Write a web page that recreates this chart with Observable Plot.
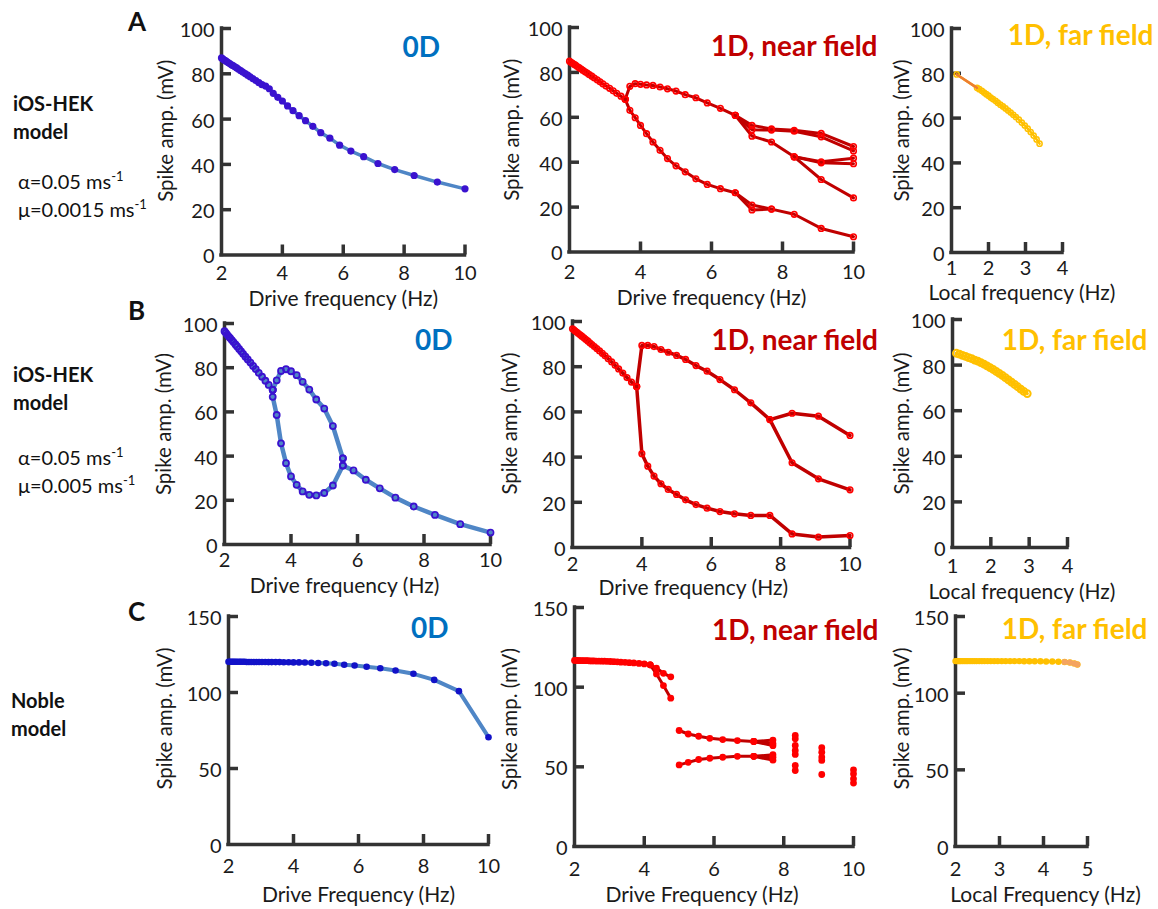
<!DOCTYPE html>
<html>
<head>
<meta charset="utf-8">
<script src="https://cdn.jsdelivr.net/npm/d3@7"></script>
<script src="https://cdn.jsdelivr.net/npm/@observablehq/plot@0.6"></script>
<style>
  body { margin: 0; background: #fff; }
  #fig { position: relative; width: 1158px; height: 909px; font-family: Lato, "Open Sans", sans-serif; color: #111; overflow: hidden; }
  .lbl { position: absolute; white-space: nowrap; transform: translateY(-50%); line-height: 1.2; }
  .letter { font-weight: bold; font-size: 26px; }
  .model { font-weight: bold; font-size: 20px; }
  .param { font-size: 20px; }
  .param sup { font-size: 13px; vertical-align: 8px; line-height: 0; }
</style>
</head>
<body>
<div id="fig">
  <div class="lbl letter" style="left:128px;top:22px">A</div>
  <div class="lbl letter" style="left:128px;top:311px">B</div>
  <div class="lbl letter" style="left:128px;top:612px">C</div>

  <div class="lbl model" style="left:13px;top:103px">iOS-HEK</div>
  <div class="lbl model" style="left:13px;top:131px">model</div>
  <div class="lbl param" style="left:18px;top:181px">α=0.05 ms<sup>-1</sup></div>
  <div class="lbl param" style="left:18px;top:209px">μ=0.0015 ms<sup>-1</sup></div>

  <div class="lbl model" style="left:13px;top:374px">iOS-HEK</div>
  <div class="lbl model" style="left:13px;top:402px">model</div>
  <div class="lbl param" style="left:18px;top:457px">α=0.05 ms<sup>-1</sup></div>
  <div class="lbl param" style="left:18px;top:485px">μ=0.005 ms<sup>-1</sup></div>

  <div class="lbl model" style="left:11px;top:700px">Noble</div>
  <div class="lbl model" style="left:11px;top:728px">model</div>
</div>
<script>
// ---------------- DATA ----------------
// Each branch is a list of [frequency (Hz), spike amplitude (mV)] pairs.

// Row A, 0D
const a1Zero = [[2.00,87.0],[2.04,86.6],[2.08,86.2],[2.13,85.8],[2.17,85.4],[2.22,85.0],[2.27,84.5],[2.33,84.0],[2.38,83.6],[2.44,83.1],[2.50,82.6],[2.56,82.0],[2.63,81.4],[2.70,80.8],[2.78,80.1],[2.86,79.4],[2.94,78.7],[3.03,77.9],[3.13,77.0],[3.23,76.1],[3.33,75.2],[3.45,74.6],[3.57,73.4],[3.70,71.4],[3.85,69.6],[4.00,68.0],[4.17,65.8],[4.35,63.7],[4.55,61.5],[4.76,59.3],[5.00,56.8],[5.26,54.0],[5.56,51.6],[5.88,48.5],[6.25,45.9],[6.67,43.4],[7.14,40.4],[7.69,37.7],[8.33,35.1],[9.09,32.2],[10.00,29.2]];

// Row A, 1D near field
const a2Main = [[2.00,85.0],[2.04,84.5],[2.08,84.1],[2.13,83.6],[2.17,83.2],[2.22,82.6],[2.27,82.1],[2.33,81.5],[2.38,80.9],[2.44,80.3],[2.50,79.7],[2.56,79.0],[2.63,78.3],[2.70,77.5],[2.78,76.7],[2.86,75.8],[2.94,74.9],[3.03,73.9],[3.13,72.9],[3.23,71.8],[3.33,70.7],[3.45,69.4],[3.57,68.0]];
const a2Upper = [[3.57,68.0],[3.70,73.8],[3.85,75.0],[4.00,74.7],[4.17,74.4],[4.35,74.2],[4.55,73.5],[4.76,72.7],[5.00,71.7],[5.26,70.1],[5.56,68.7],[5.88,66.4],[6.25,64.0],[6.67,60.9],[7.14,56.4],[7.69,54.8],[8.33,54.2],[9.09,52.8],[10.00,47.0]];
const a2Upper2 = [[6.67,60.9],[7.14,54.5],[7.69,54.3],[8.33,53.8],[9.09,51.3],[10.00,45.0]];
const a2Mid = [[6.67,60.9],[7.14,51.6],[7.69,49.0],[8.33,42.4],[9.09,39.7],[10.00,39.3]];
const a2Mid2 = [[8.33,42.4],[9.09,40.2],[10.00,41.8]];
const a2Mid3 = [[8.33,42.4],[9.09,32.3],[10.00,24.1]];
const a2Lower = [[3.57,68.0],[3.70,63.1],[3.85,59.8],[4.00,56.4],[4.17,52.7],[4.35,49.0],[4.55,45.3],[4.76,41.6],[5.00,38.4],[5.26,35.7],[5.56,32.6],[5.88,30.1],[6.25,28.2],[6.67,26.4],[7.14,20.9],[7.69,19.1],[8.33,16.8],[9.09,10.5],[10.00,6.8]];
const a2Lower2 = [[6.67,26.4],[7.14,18.7],[7.69,19.1]];

// Row A, 1D far field (local frequency)
const a3FarStart = [[1.14,79.5],[1.69,73.5]];
const a3Far = [[1.14,79.5],[1.69,73.5],[1.75,72.9],[1.82,72.2],[1.88,71.4],[1.94,70.7],[2.00,70.0],[2.06,69.2],[2.12,68.5],[2.19,67.7],[2.25,66.9],[2.32,66.0],[2.39,65.2],[2.46,64.3],[2.53,63.4],[2.60,62.5],[2.67,61.5],[2.74,60.5],[2.82,59.3],[2.90,58.0],[2.98,56.7],[3.06,55.3],[3.14,53.8],[3.22,52.2],[3.30,50.5],[3.38,48.6]];

// Row B, 0D
const b1Main = [[2.00,96.5],[2.04,95.8],[2.08,95.0],[2.13,94.1],[2.17,93.4],[2.22,92.5],[2.27,91.6],[2.33,90.5],[2.38,89.6],[2.44,88.5],[2.50,87.4],[2.56,86.3],[2.63,85.0],[2.70,83.7],[2.78,82.3],[2.86,80.8],[2.94,79.4],[3.03,77.7],[3.13,75.9],[3.23,74.1],[3.33,72.2],[3.45,70.0]];
const b1Upper = [[3.45,70.0],[3.57,74.3],[3.70,78.5],[3.85,79.3],[4.00,78.4],[4.17,76.6],[4.35,73.6],[4.55,70.1],[4.76,65.6],[5.00,61.5],[5.26,53.6],[5.56,39.0]];
const b1Lower = [[3.45,70.0],[3.45,66.8],[3.57,58.6],[3.70,45.8],[3.85,36.8],[4.00,30.8],[4.17,27.0],[4.35,24.0],[4.55,22.5],[4.76,22.2],[5.00,23.3],[5.26,26.7],[5.56,35.7]];
const b1Tail = [[5.56,39.0],[5.56,35.7],[5.88,33.5],[6.25,29.3],[6.67,25.4],[7.14,21.2],[7.69,17.2],[8.33,13.4],[9.09,9.2],[10.00,5.4]];

// Row B, 1D near field
const b2Main = [[2.00,96.8],[2.04,96.3],[2.08,95.8],[2.13,95.2],[2.17,94.7],[2.22,94.1],[2.27,93.5],[2.33,92.8],[2.38,92.1],[2.44,91.4],[2.50,90.6],[2.56,89.8],[2.63,88.9],[2.70,88.0],[2.78,87.0],[2.86,85.9],[2.94,84.8],[3.03,83.5],[3.13,82.1],[3.23,80.6],[3.33,79.0],[3.45,77.2],[3.57,75.2],[3.70,73.2],[3.85,71.2]];
const b2Upper = [[3.85,71.2],[4.00,89.4],[4.17,89.4],[4.35,88.9],[4.55,87.6],[4.76,86.4],[5.00,85.0],[5.26,83.2],[5.56,80.5],[5.88,78.0],[6.25,74.3],[6.67,69.8],[7.14,64.0],[7.69,56.6],[8.33,59.4],[9.09,58.1],[10.00,49.6]];
const b2Mid = [[7.69,56.6],[8.33,37.5],[9.09,30.4],[10.00,25.5]];
const b2Lower = [[3.85,71.2],[4.00,41.5],[4.17,36.0],[4.35,31.6],[4.55,28.2],[4.76,25.7],[5.00,23.5],[5.26,21.1],[5.56,19.0],[5.88,17.4],[6.25,15.9],[6.67,14.9],[7.14,14.2],[7.69,14.2],[8.33,6.0],[9.09,4.6],[10.00,5.3]];

// Row B, 1D far field
const b3Far = [[1.10,85.2],[1.18,84.8],[1.26,84.3],[1.34,83.8],[1.42,83.3],[1.50,82.8],[1.58,82.2],[1.66,81.7],[1.74,81.1],[1.82,80.4],[1.90,79.7],[1.98,78.9],[2.06,78.1],[2.14,77.2],[2.22,76.4],[2.30,75.5],[2.38,74.5],[2.46,73.5],[2.54,72.5],[2.62,71.5],[2.70,70.5],[2.78,69.5],[2.86,68.5],[2.95,67.5]];

// Row C, 0D
const c1Zero = [[2.00,120.2],[2.04,120.2],[2.08,120.2],[2.13,120.2],[2.17,120.2],[2.22,120.2],[2.27,120.2],[2.33,120.2],[2.38,120.2],[2.44,120.2],[2.50,120.2],[2.56,120.1],[2.63,120.1],[2.70,120.1],[2.78,120.1],[2.86,120.1],[2.94,120.1],[3.03,120.1],[3.13,120.1],[3.23,120.0],[3.33,120.0],[3.45,120.0],[3.57,120.0],[3.70,119.9],[3.85,119.9],[4.00,119.8],[4.17,119.8],[4.35,119.7],[4.55,119.6],[4.76,119.4],[5.00,119.2],[5.26,118.9],[5.56,118.3],[5.88,117.8],[6.25,116.9],[6.67,116.0],[7.14,114.5],[7.69,112.3],[8.33,108.3],[9.09,100.9],[10.00,70.6]];

// Row C, 1D near field
const c2Main = [[2.00,116.8],[2.04,116.8],[2.08,116.8],[2.13,116.7],[2.17,116.7],[2.22,116.7],[2.27,116.6],[2.33,116.6],[2.38,116.6],[2.44,116.5],[2.50,116.5],[2.56,116.5],[2.63,116.4],[2.70,116.4],[2.78,116.3],[2.86,116.3],[2.94,116.2],[3.03,116.1],[3.13,116.0],[3.23,115.9],[3.33,115.7],[3.45,115.6],[3.57,115.4],[3.70,115.2],[3.85,114.9],[4.00,114.6],[4.17,114.0]];
const c2Upper = [[4.17,114.0],[4.35,112.0],[4.55,108.7],[4.76,106.5]];
const c2Lower = [[4.17,114.0],[4.35,108.3],[4.55,101.0],[4.76,93.1]];
const c2High = [[5.00,72.8],[5.26,70.6],[5.56,69.2],[5.88,67.9],[6.25,67.1],[6.67,66.5],[7.14,65.9],[7.69,66.8]];
const c2High2 = [[7.14,65.9],[7.69,64.6]];
const c2High3 = [[7.14,65.9],[7.69,63.3]];
const c2Low = [[5.00,51.2],[5.26,52.8],[5.56,54.6],[5.88,55.4],[6.25,56.0],[6.67,56.6],[7.14,56.6],[7.69,57.6]];
const c2Low2 = [[7.14,56.6],[7.69,56.0]];
const c2Low3 = [[7.14,56.6],[7.69,54.2]];
const c2Scatter = [[8.33,69.7],[8.33,67.6],[8.33,63.4],[8.33,60.3],[8.33,57.8],[8.33,50.9],[8.33,47.7],[9.09,62.0],[9.09,59.2],[9.09,56.1],[9.09,54.0],[9.09,45.2],[10.00,48.1],[10.00,45.6],[10.00,42.5],[10.00,39.8]];

// Row C, 1D far field
const c3Far = [[2.00,120.9],[2.03,120.9],[2.06,120.9],[2.09,120.9],[2.12,120.9],[2.16,120.9],[2.20,120.9],[2.24,120.9],[2.28,120.9],[2.33,120.9],[2.38,120.9],[2.43,120.9],[2.48,120.9],[2.54,120.9],[2.60,120.9],[2.66,120.9],[2.73,120.9],[2.80,120.9],[2.88,120.9],[2.96,120.9],[3.05,120.9],[3.14,120.9],[3.24,120.9],[3.34,120.9],[3.45,120.9],[3.56,120.8],[3.68,120.8],[3.80,120.8],[3.93,120.8],[4.06,120.7],[4.20,120.7],[4.34,120.5],[4.48,120.3],[4.60,120.0],[4.70,119.4],[4.77,118.7]];
const c3FarEnd = [[4.48,120.3],[4.60,120.0],[4.70,119.4],[4.77,118.7]];

// Axis ticks and labels
const driveTicks = [2, 4, 6, 8, 10];
const localTicksAB = [1, 2, 3, 4];
const localTicksC = [2, 3, 4, 5];
const ampTicksAB = [0, 20, 40, 60, 80, 100];
const ampTicksC = [0, 50, 100, 150];
const yTitle = "Spike amp. (mV)";
const titles = {zero: "0D", near: "1D, near field", far: "1D, far field"};

// ---------------- STYLE ----------------
const FONT = 'Lato, "Open Sans", sans-serif';
const TICK_FS = 20, XTITLE_FS = 21, YTITLE_FS = 20.5, PANEL_TITLE_FS = 28;
const AXIS = "#333333";
const C0D_LINE = "#4f86c6";
const C0D_DOT = "#3a12cf";
const C0D_DOT_C = "#1212c8";
const CNEAR_LINE = "#c00000";
const CNEAR_DOT = "#ff0000";
const CFAR = "#ffc000";
const CFAR_ORANGE = "#ed7d31";
const TITLE_BLUE = "#0070c0";
const TITLE_RED = "#c00000";

const flat = (branches) => branches.flatMap((b, k) => b.map(([f, v]) => ({f, v, k})));

function linesAndDots(branches, o) {
  const data = flat(branches);
  const marks = [Plot.line(data, {x: "f", y: "v", z: "k", stroke: o.line, strokeWidth: o.lw, strokeLinejoin: "round", strokeLinecap: "round"})];
  if (o.dot) marks.push(Plot.dot(data, {x: "f", y: "v", r: o.r, fill: o.fill ?? "none", stroke: o.dotStroke ?? "none", strokeWidth: o.dsw ?? 1.5}));
  return marks;
}

const fig = document.getElementById("fig");

function panel(p) {
  const ML = 100, MR = 20, MT = 20, MB = 75;
  const iw = p.x1 - p.x0, ih = p.bottom - p.top;
  const marks = [
    Plot.ruleX([p.xDomain[0]], {stroke: AXIS, strokeWidth: 3.5, strokeLinecap: "square"}),
    Plot.ruleY([0], {stroke: AXIS, strokeWidth: 3.5, strokeLinecap: "square"}),
    Plot.ruleY(p.yTicks.filter(d => d !== 0), {stroke: AXIS, strokeWidth: 3.5, insetRight: iw - 10}),
    Plot.ruleX(p.xTicks.filter(d => d !== p.xDomain[0]), {stroke: AXIS, strokeWidth: 3.5, insetTop: ih - 10}),
    Plot.axisY({ticks: p.yTicks, tickSize: 0, tickPadding: 7, label: null, fontSize: TICK_FS, dy: 2, tickFormat: d => String(d)}),
    Plot.axisX({ticks: p.xTicks, tickSize: 0, tickPadding: p.xTickPad, label: null, fontSize: TICK_FS, tickFormat: d => String(d)}),
    Plot.text([yTitle], {text: d => d, frameAnchor: "left", textAnchor: "middle", rotate: -90, dx: p.yLabelDx, dy: p.yLabelDy, fontSize: YTITLE_FS, lineAnchor: "middle"}),
    Plot.text([p.xLabel], {text: d => d, frameAnchor: "bottom", textAnchor: "middle", dx: p.xLabelDx, dy: p.xLabelDy, fontSize: XTITLE_FS, lineAnchor: "middle"}),
    Plot.text([p.title], {text: d => d, frameAnchor: "top-right", textAnchor: "end", lineAnchor: "middle", dx: p.titleDx, dy: p.titleDy, fill: p.titleColor, fontWeight: "bold", fontSize: PANEL_TITLE_FS}),
    ...p.marks
  ];
  const svg = Plot.plot({
    width: iw + ML + MR,
    height: ih + MT + MB,
    marginLeft: ML, marginRight: MR, marginTop: MT, marginBottom: MB,
    x: {domain: p.xDomain},
    y: {domain: p.yDomain},
    style: {overflow: "visible", fontFamily: FONT, color: "#1a1a1a", background: "transparent"},
    marks
  });
  svg.style.position = "absolute";
  svg.style.left = (p.x0 - ML) + "px";
  svg.style.top = (p.top - MT) + "px";
  svg.style.maxWidth = "none";
  fig.appendChild(svg);
}

const zeroStyleA = {line: C0D_LINE, lw: 3.5, dot: true, r: 3.6, fill: C0D_DOT};
const zeroStyleB = {line: C0D_LINE, lw: 4.5, dot: true, r: 3.0, fill: "none", dotStroke: C0D_DOT, dsw: 1.8};
const zeroStyleC = {line: C0D_LINE, lw: 4, dot: true, r: 3.3, fill: C0D_DOT_C};
const nearStyle = {line: CNEAR_LINE, lw: 3, dot: true, r: 2.8, fill: "none", dotStroke: CNEAR_DOT, dsw: 1.6};
const nearStyleC = {line: CNEAR_LINE, lw: 3, dot: true, r: 3.4, fill: CNEAR_DOT};

// Row A
panel({x0: 220.5, x1: 464, top: 27.5, bottom: 254, xDomain: [2, 10], yDomain: [0, 100], xTicks: driveTicks, yTicks: ampTicksAB,
  xLabel: "Drive frequency (Hz)", xTickPad: 11, xLabelDx: 0, xLabelDy: 44, yLabelDx: -55, yLabelDy: -11,
  title: titles.zero, titleColor: TITLE_BLUE, titleDx: -25, titleDy: 19.5,
  marks: linesAndDots([a1Zero], zeroStyleA)});
panel({x0: 569, x1: 853, top: 27, bottom: 251.5, xDomain: [2, 10], yDomain: [0, 100], xTicks: driveTicks, yTicks: ampTicksAB,
  xLabel: "Drive frequency (Hz)", xTickPad: 13, xLabelDx: 0, xLabelDy: 46, yLabelDx: -57, yLabelDy: -10,
  title: titles.near, titleColor: TITLE_RED, titleDx: 24, titleDy: 20,
  marks: linesAndDots([a2Main, a2Upper, a2Upper2, a2Mid, a2Mid2, a2Mid3, a2Lower, a2Lower2], nearStyle)});
panel({x0: 951, x1: 1062, top: 28, bottom: 252, xDomain: [1, 4], yDomain: [0, 100], xTicks: localTicksAB, yTicks: ampTicksAB,
  xLabel: "Local frequency (Hz)", xTickPad: 8, xLabelDx: 15, xLabelDy: 41, yLabelDx: -49, yLabelDy: -10,
  title: titles.far, titleColor: CFAR, titleDx: 91, titleDy: 8,
  marks: [
    ...linesAndDots([a3Far], {line: CFAR, lw: 2.5, dot: true, r: 2.6, fill: "none", dotStroke: CFAR, dsw: 1.5}),
    ...linesAndDots([a3FarStart], {line: CFAR_ORANGE, lw: 2.5, dot: false})
  ]});

// Row B
panel({x0: 224, x1: 490, top: 323, bottom: 544, xDomain: [2, 10], yDomain: [0, 100], xTicks: driveTicks, yTicks: ampTicksAB,
  xLabel: "Drive frequency (Hz)", xTickPad: 8, xLabelDx: -13, xLabelDy: 42, yLabelDx: -60, yLabelDy: -10,
  title: titles.zero, titleColor: TITLE_BLUE, titleDx: -38, titleDy: 18,
  marks: linesAndDots([b1Main, b1Upper, b1Lower, b1Tail], zeroStyleB)});
panel({x0: 572, x1: 849.5, top: 321, bottom: 547, xDomain: [2, 10], yDomain: [0, 100], xTicks: driveTicks, yTicks: ampTicksAB,
  xLabel: "Drive frequency (Hz)", xTickPad: 9, xLabelDx: -18, xLabelDy: 41, yLabelDx: -62, yLabelDy: -11,
  title: titles.near, titleColor: TITLE_RED, titleDx: 28, titleDy: 20,
  marks: linesAndDots([b2Main, b2Upper, b2Mid, b2Lower], {...nearStyle, lw: 3.5})});
panel({x0: 952, x1: 1067, top: 319, bottom: 547, xDomain: [1, 4], yDomain: [0, 100], xTicks: localTicksAB, yTicks: ampTicksAB,
  xLabel: "Local frequency (Hz)", xTickPad: 11, xLabelDx: 12, xLabelDy: 45, yLabelDx: -50, yLabelDy: -10,
  title: titles.far, titleColor: CFAR, titleDx: 80, titleDy: 22,
  marks: linesAndDots([b3Far], {line: CFAR, lw: 3, dot: true, r: 3.4, fill: "none", dotStroke: CFAR, dsw: 2})});

// Row C
panel({x0: 228, x1: 488, top: 616, bottom: 844, xDomain: [2, 10], yDomain: [0, 150], xTicks: driveTicks, yTicks: ampTicksC,
  xLabel: "Drive Frequency (Hz)", xTickPad: 14, xLabelDx: 0, xLabelDy: 51, yLabelDx: -63, yLabelDy: -12,
  title: titles.zero, titleColor: TITLE_BLUE, titleDx: -40, titleDy: 13,
  marks: linesAndDots([c1Zero], zeroStyleC)});
panel({x0: 574, x1: 853, top: 607, bottom: 846, xDomain: [2, 10], yDomain: [0, 150], xTicks: driveTicks, yTicks: ampTicksC,
  xLabel: "Drive Frequency (Hz)", xTickPad: 15, xLabelDx: -12, xLabelDy: 49, yLabelDx: -64, yLabelDy: -8,
  title: titles.near, titleColor: TITLE_RED, titleDx: 25, titleDy: 24,
  marks: [
    ...linesAndDots([c2Main, c2Upper, c2Lower, c2High, c2High2, c2High3, c2Low, c2Low2, c2Low3], nearStyleC),
    Plot.dot(flat([c2Scatter]), {x: "f", y: "v", r: 3.4, fill: CNEAR_DOT})
  ]});
panel({x0: 955, x1: 1087, top: 616, bottom: 846, xDomain: [2, 5], yDomain: [0, 150], xTicks: localTicksC, yTicks: ampTicksC,
  xLabel: "Local Frequency (Hz)", xTickPad: 15, xLabelDx: 24, xLabelDy: 49, yLabelDx: -53, yLabelDy: -13,
  title: titles.far, titleColor: CFAR, titleDx: 60, titleDy: 14,
  marks: [
    ...linesAndDots([c3Far], {line: CFAR, lw: 2.5, dot: true, r: 3.2, fill: CFAR}),
    ...linesAndDots([c3FarEnd], {line: CFAR_ORANGE, lw: 2.5, dot: true, r: 3, fill: "#f4a460", dotStroke: "none"})
  ]});
</script>
</body>
</html>
